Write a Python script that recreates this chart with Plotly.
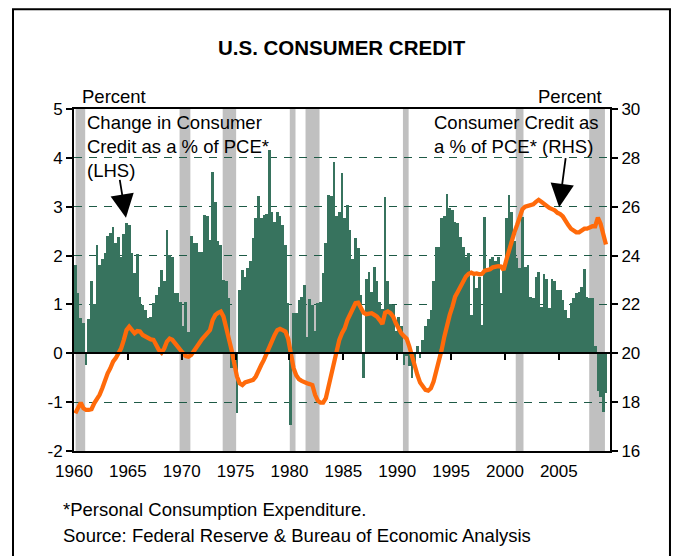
import plotly.graph_objects as go

# ---------------- data ----------------
start_year = 1960  # first quarter: 1960 Q1, quarterly data

# Change in consumer credit as a % of PCE (LHS), quarterly 1960Q1-2009Q2
change_pct = [
    1.81, 1.23, 0.72, 0.61, -0.24, 0.70, 1.48, 1.01,   # 1960-61
    2.22, 1.81, 1.94, 2.05, 2.40, 2.46, 2.59, 2.25,    # 1962-63
    2.39, 1.98, 2.45, 2.67, 2.63, 2.05, 1.64, 2.03,    # 1964-65
    1.16, 0.99, 0.89, 0.72, 0.75, 1.02, 1.19, 1.36,    # 1966-67
    1.71, 1.47, 2.52, 2.01, 1.98, 1.23, 1.23, 1.06,    # 1968-69
    0.55, 1.04, 0.44, 2.40, 2.25, 2.25, 2.08, 2.08,    # 1970-71
    2.83, 2.80, 2.32, 3.72, 3.10, 2.29, 2.22, 1.50,    # 1972-73
    1.47, 1.13, -0.31, -0.05, -1.23, 1.30, 1.71, 1.57, # 1974-75
    1.74, 1.88, 2.35, 2.76, 3.21, 2.76, 2.83, 2.86,    # 1976-77
    4.17, 2.90, 2.69, 2.90, 2.81, 2.63, 2.22, 1.02,    # 1978-79
    -1.47, 0.82, 0.82, 1.09, 1.16, 1.40, 0.34, 1.11,   # 1980-81
    0.99, 0.45, 1.02, 1.06, 1.64, 2.25, 3.24, 3.21,    # 1982-83
    3.92, 2.80, 2.90, 3.70, 2.76, 3.03, 2.52, 1.94,    # 1984-85
    2.35, 2.15, 1.19, -0.51, 1.52, 1.67, 1.26, 1.77,   # 1986-87
    1.47, 1.06, 0.90, 3.20, 1.47, 1.00, 0.99, 0.45,    # 1988-89
    0.75, 0.55, -0.24, -0.05, -0.25, -0.51, -0.20, 0.14,  # 1990-91
    -0.10, 0.27, 0.55, 0.70, 0.89, 1.47, 2.18, 2.18,   # 1992-93
    2.76, 2.80, 3.27, 2.97, 2.93, 2.69, 2.66, 2.39,    # 1994-95
    2.18, 1.98, 2.06, 0.78, 1.64, 1.33, 1.57, 0.58,    # 1996-97
    2.78, 1.71, 1.94, 1.98, 1.88, 1.98, 1.23, 1.81,    # 1998-99
    2.76, 3.24, 2.90, 2.30, 1.95, 1.75, 2.78, 1.77,    # 2000-01
    1.81, 1.16, 1.13, 1.57, 1.67, 0.95, 1.62, 1.53,    # 2002-03
    0.92, 1.53, 1.47, 1.30, 1.30, 1.09, 0.89, 0.72,    # 2004-05
    1.02, 1.13, 1.23, 1.26, 1.36, 1.72, 1.16, 1.13,    # 2006-07
    1.13, 0.14, -0.78, -0.89, -1.21, -0.82,            # 2008-09Q2
]

# Consumer credit as a % of PCE (RHS), quarterly 1960Q1-2009Q2
credit_pct = [
    17.54, 17.82, 17.98, 17.75, 17.68, 17.68, 17.71, 17.95,
    18.12, 18.30, 18.57, 18.91, 19.18, 19.39, 19.66, 19.80,
    20.00, 20.20, 20.55, 20.95, 21.09, 20.98, 20.82, 20.91,
    20.89, 20.75, 20.68, 20.65, 20.57, 20.55, 20.30, 20.14,
    20.03, 20.20, 20.48, 20.60, 20.55, 20.41, 20.25, 20.07,
    20.00, 19.89, 19.86, 19.93, 20.07, 20.27, 20.41, 20.57,
    20.68, 20.79, 20.95, 21.36, 21.57, 21.66, 21.71, 21.50,
    21.09, 20.68, 20.14, 19.59, 19.05, 18.77, 18.70, 18.81,
    18.84, 18.88, 18.91, 19.05, 19.32, 19.52, 19.73, 20.00,
    20.27, 20.48, 20.75, 20.95, 21.00, 20.95, 20.89, 20.60,
    20.00, 19.40, 19.10, 18.94, 18.87, 18.81, 18.77, 18.74,
    18.70, 18.30, 18.06, 17.98, 17.98, 18.16, 18.64, 19.11,
    19.73, 20.07, 20.55, 20.82, 21.02, 21.36, 21.61, 21.84,
    22.05, 22.07, 21.84, 21.66, 21.60, 21.60, 21.64, 21.57,
    21.50, 21.36, 21.20, 21.66, 21.71, 21.64, 21.50, 21.23,
    20.98, 20.82, 20.70, 20.60, 20.27, 19.86, 19.52, 19.11,
    18.80, 18.61, 18.50, 18.47, 18.57, 18.84, 19.25, 19.73,
    20.14, 20.68, 21.16, 21.57, 21.91, 22.32, 22.52, 22.73,
    22.93, 23.14, 23.25, 23.30, 23.25, 23.27, 23.23, 23.25,
    23.38, 23.41, 23.44, 23.52, 23.55, 23.57, 23.55, 23.41,
    23.82, 24.23, 24.60, 24.95, 25.25, 25.55, 25.90, 26.00,
    26.03, 26.05, 26.10, 26.20, 26.28, 26.20, 26.10, 26.00,
    25.95, 25.90, 25.85, 25.75, 25.70, 25.60, 25.40, 25.25,
    25.10, 25.00, 24.95, 24.95, 25.05, 25.10, 25.10, 25.15,
    25.20, 25.20, 25.55, 25.30, 24.80, 24.45,
]

# NBER recessions (fractional years) as shaded in the chart
recession_start = [1960.15, 1969.8, 1973.8, 1980.03, 1981.49, 1990.53, 2001.0, 2007.82]
recession_end = [1961.04, 1970.8, 1975.05, 1980.56, 1982.79, 1991.06, 2001.72, 2009.28]

x_tick_years = [1960, 1965, 1970, 1975, 1980, 1985, 1990, 1995, 2000, 2005]
x_tick_labels = [str(y) for y in x_tick_years]
lhs_ticks = [-2, -1, 0, 1, 2, 3, 4, 5]
lhs_labels = ["-2", "-1", "0", "1", "2", "3", "4", "5"]
rhs_ticks = [16, 18, 20, 22, 24, 26, 28, 30]
rhs_labels = ["16", "18", "20", "22", "24", "26", "28", "30"]

# ---------------- style ----------------
GREEN = "#37735E"
ORANGE = "#FF6A0A"
GREY = "#C0C0C0"
GRID = "#1E5A46"
FONT = "Liberation Sans, Arial, sans-serif"

quarters = [start_year + i / 4 + 0.125 for i in range(len(change_pct))]
x_range = [1960, 2009.75]

fig = go.Figure()
fig.add_trace(go.Bar(
    x=quarters, y=change_pct, width=0.25,
    marker=dict(color=GREEN, line=dict(width=0)),
    xaxis="x", yaxis="y", showlegend=False, hoverinfo="x+y",
))
fig.add_trace(go.Scatter(
    x=quarters, y=credit_pct, mode="lines",
    line=dict(color=ORANGE, width=4.3),
    xaxis="x2", yaxis="y2", showlegend=False,
))

for s, e in zip(recession_start, recession_end):
    fig.add_shape(type="rect", xref="x", yref="paper", x0=s, x1=e, y0=0, y1=1,
                  fillcolor=GREY, line=dict(width=0), layer="between")

# outer frame of the exhibit
fig.add_shape(type="rect", xref="paper", yref="paper",
              x0=-0.1138, x1=1.1119, y0=-0.45, y1=1.292,
              line=dict(color="black", width=2), fillcolor="rgba(0,0,0,0)", layer="above")

tickfont = dict(family=FONT, size=17, color="black")

fig.update_layout(
    width=680, height=556,
    margin=dict(l=74, r=70, t=109, b=105),
    paper_bgcolor="white", plot_bgcolor="white",
    bargap=0,
    font=dict(family=FONT, color="black"),
    xaxis=dict(
        range=x_range, domain=[0, 1], anchor="y",
        tickvals=x_tick_years, ticktext=x_tick_labels, ticks="",
        tickfont=tickfont, showgrid=False, zeroline=False,
        showline=True, linecolor="black", linewidth=2, mirror=True,
        ticklabelstandoff=4,
    ),
    xaxis2=dict(
        range=x_range, overlaying="x", anchor="free", position=2 / 7,
        tickvals=x_tick_years[1:], ticks="outside", ticklen=6, tickwidth=2,
        tickcolor="black", showticklabels=False, showgrid=False, zeroline=False,
        showline=True, linecolor="black", linewidth=2,
    ),
    yaxis=dict(
        range=[-2, 5], domain=[0, 1], anchor="x",
        tickvals=lhs_ticks, ticktext=lhs_labels, ticks="outside", ticklen=6,
        tickwidth=1.5, tickcolor="black", tickfont=tickfont,
        showgrid=True, gridcolor=GRID, gridwidth=1, griddash="8px,7px",
        zeroline=False, showline=True, linecolor="black", linewidth=2,
    ),
    yaxis2=dict(
        range=[16, 30], overlaying="y", anchor="x", side="right",
        tickvals=rhs_ticks, ticktext=rhs_labels, ticks="outside", ticklen=6,
        tickwidth=1.5, tickcolor="black", tickfont=tickfont,
        showgrid=False, zeroline=False, showline=True, linecolor="black", linewidth=2,
    ),
)

ann_font = dict(family=FONT, size=18.5, color="black")
foot_font = dict(family=FONT, size=18.5, color="black")
annotations = [
    dict(text="U.S. CONSUMER CREDIT", xref="paper", yref="paper", x=0.5, y=1.181,
         xanchor="center", yanchor="middle", showarrow=False,
         font=dict(family=FONT, size=20.5, color="black", weight="bold")),
    dict(text="Percent", xref="paper", yref="paper", x=0.0112, y=1.038,
         xanchor="left", yanchor="middle", showarrow=False, font=ann_font),
    dict(text="Percent", xref="paper", yref="paper", x=0.9888, y=1.038,
         xanchor="right", yanchor="middle", showarrow=False, font=ann_font),
    dict(text="Change in Consumer<br>Credit as a % of PCE*<br>(LHS)", xref="paper", yref="paper",
         x=0.021, y=0.889, xanchor="left", yanchor="middle", align="left",
         showarrow=False, font=ann_font),
    dict(text="Consumer Credit as<br>a % of PCE* (RHS)", xref="paper", yref="paper",
         x=0.668, y=0.9254, xanchor="left", yanchor="middle", align="left",
         showarrow=False, font=ann_font),
    dict(text="", xref="x", yref="y", x=1964.82, y=2.775, ax=-6.4, ay=-39.4,
         showarrow=True, arrowhead=2, arrowsize=2.6, arrowwidth=1.8, arrowcolor="black"),
    dict(text="", xref="x", yref="y", x=2005.03, y=2.99, ax=6.7, ay=-50.6,
         showarrow=True, arrowhead=2, arrowsize=2.6, arrowwidth=1.8, arrowcolor="black"),
    dict(text="*Personal Consumption Expenditure.", xref="paper", yref="paper",
         x=-0.0245, y=-0.1725, xanchor="left", yanchor="middle", showarrow=False,
         font=foot_font),
    dict(text="Source: Federal Reserve &amp; Bureau of Economic Analysis", xref="paper", yref="paper",
         x=-0.0245, y=-0.2485, xanchor="left", yanchor="middle", showarrow=False,
         font=foot_font),
]
fig.update_layout(annotations=annotations)

fig.write_html(
    "out.html",
    config={"displayModeBar": False},
    post_script="document.body.style.margin='0px';document.body.style.overflow='hidden';",
)
